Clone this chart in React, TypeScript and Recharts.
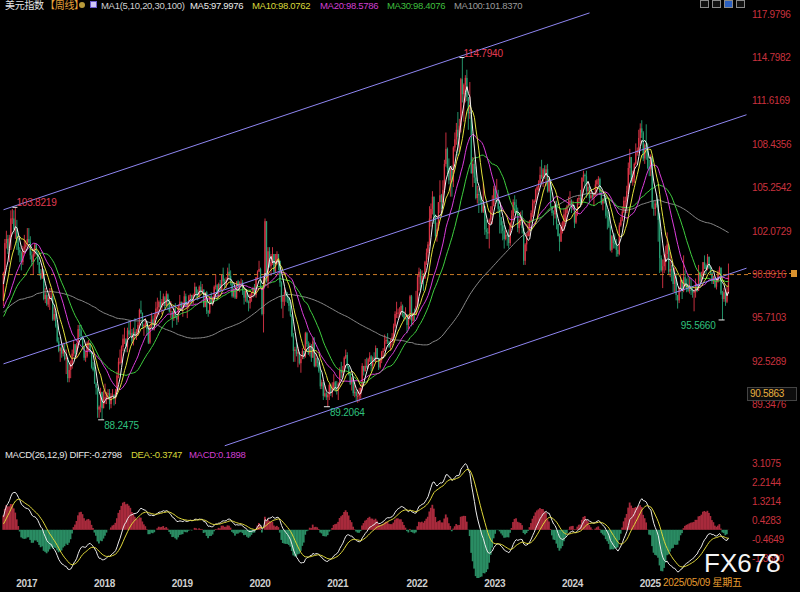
import React from "react";
import { ComposedChart, Bar, Line, XAxis, YAxis, ReferenceLine, ReferenceDot } from "recharts";

type HLC = [number, number, number]; // high, low, close (open = previous close)

// weekly closes before the first drawn bar, only used to feed MA / MACD
const WARMUP_CLOSE = [
  88.4, 89.6, 90.3,
  91.2, 91.9, 92.5, 95.0, 94.8, 94.6, 94.2, 94.4, 95.3, 97.7, 100.0, 97.9, 97.3, 97.3, 99.3, 97.5, 96.9,
  95.3, 94.8, 93.1, 96.0, 97.0, 96.3, 95.2, 94.1, 95.5, 96.1, 96.1, 97.9, 97.2, 97.3, 98.0, 96.6, 94.9,
  95.8, 96.2, 95.3, 95.1, 96.1, 96.1, 94.9, 94.5, 96.9, 96.9, 99.3, 98.9, 99.6, 100.0, 98.4, 97.6, 98.7, 97.9,
  98.6, 98.5, 99.0, 99.6, 99.6, 97.0, 96.0, 96.6, 98.1, 97.3, 96.2, 95.1, 95.9, 94.6, 94.2, 94.7, 95.1, 93.1,
  93.9, 94.6, 95.3, 95.5, 94.0, 94.6, 94.2, 95.5, 95.6, 96.3, 96.6, 97.5, 95.5, 96.2, 95.7, 94.5, 95.5,
  95.8, 95.1, 96.1, 95.4, 95.4, 96.6, 98.0, 98.7, 98.3, 97.0,
];

const W2016: HLC[] = [
  [99.1, 96.6, 99.0], [101.5, 98.8, 101.2], [102.1, 100.8, 101.5], [101.8, 100.4, 100.7],
  [101.8, 99.8, 101.6], [103.6, 100.7, 103.0], [103.7, 102.6, 103.0], [103.6, 101.9, 102.2],
];
const W2017: HLC[] = [
  [103.82, 101.5, 102.2], [102.9, 100.7, 101.2], [101.6, 100.3, 100.7], [100.9, 99.8, 100.5],
  [100.6, 99.2, 99.8], [101.0, 99.6, 100.8], [101.8, 100.4, 100.9], [101.4, 100.7, 101.1],
  [102.3, 101.0, 101.5], [102.3, 101.2, 101.3], [101.7, 100.0, 100.3], [100.6, 99.5, 99.8], [100.8, 98.9, 100.4],
  [101.2, 100.2, 101.1], [101.2, 100.3, 100.5], [100.6, 99.6, 99.8], [99.8, 98.8, 99.0],
  [99.3, 98.5, 98.6], [99.5, 98.6, 99.2], [99.3, 97.0, 97.1], [97.9, 96.8, 97.4],
  [97.6, 96.6, 96.7], [97.4, 96.5, 97.2], [97.9, 96.3, 97.2], [97.9, 97.0, 97.3], [97.5, 95.5, 95.6],
  [96.5, 95.5, 96.0], [96.3, 95.0, 95.1], [95.3, 93.9, 94.0], [94.3, 93.2, 93.3],
  [93.6, 92.5, 93.5], [93.8, 92.8, 93.1], [93.9, 92.9, 93.4], [93.8, 92.6, 92.7],
  [93.4, 91.6, 92.8], [92.8, 91.0, 91.3], [92.3, 91.0, 91.9], [92.6, 91.3, 92.2], [93.4, 92.0, 93.1],
  [94.1, 92.9, 93.8], [93.7, 92.8, 93.1], [93.9, 92.8, 93.7], [95.2, 93.5, 94.9],
  [95.2, 94.3, 94.8], [95.2, 94.1, 94.4], [94.4, 93.4, 93.6], [93.6, 92.6, 92.8],
  [93.3, 92.5, 92.9], [94.0, 92.8, 93.9], [94.1, 93.3, 93.9], [93.9, 93.1, 93.3], [93.3, 92.0, 92.1],
];
const W2018: HLC[] = [
  [92.5, 91.8, 91.9], [92.4, 90.9, 90.9], [91.0, 90.1, 90.6], [90.6, 88.4, 89.0],
  [89.3, 88.4, 89.2], [90.6, 88.8, 90.3], [90.3, 88.25, 89.1], [90.4, 89.1, 89.8],
  [90.9, 89.4, 89.9], [90.3, 89.4, 90.1], [90.5, 89.7, 90.2], [90.5, 89.0, 89.4], [90.2, 89.1, 90.0],
  [90.5, 89.9, 90.1], [90.1, 89.3, 89.8], [90.5, 89.4, 90.3], [91.8, 90.3, 91.5],
  [92.8, 91.3, 92.5], [93.4, 92.3, 92.5], [93.7, 92.4, 93.6], [94.5, 93.3, 94.2],
  [95.0, 93.8, 94.2], [94.2, 93.2, 93.6], [95.0, 93.2, 94.8], [95.5, 94.3, 94.5], [95.5, 94.4, 94.6],
  [94.9, 93.8, 94.0], [95.0, 93.7, 94.7], [95.7, 94.2, 94.4], [94.9, 94.1, 94.7],
  [95.4, 94.4, 95.2], [96.4, 95.0, 96.3], [96.98, 96.0, 96.1], [96.1, 94.9, 95.1], [95.3, 94.4, 95.2],
  [95.7, 95.0, 95.4], [95.4, 94.4, 94.9], [94.9, 93.8, 93.9], [95.2, 93.8, 95.1],
  [96.1, 95.0, 95.6], [95.9, 94.8, 95.2], [96.0, 94.8, 95.7], [96.9, 95.6, 96.4],
  [97.2, 96.0, 96.5], [97.0, 95.9, 96.9], [97.7, 96.3, 96.5], [97.1, 96.0, 96.9], [97.5, 96.6, 97.3],
  [97.2, 96.4, 96.6], [97.7, 96.6, 97.5], [97.4, 96.3, 96.9], [97.1, 96.1, 96.2],
];
const W2019: HLC[] = [
  [96.95, 95.7, 96.2], [96.2, 95.0, 95.7], [96.5, 95.5, 96.4], [96.8, 95.7, 95.8],
  [95.9, 95.2, 95.6], [96.7, 95.4, 96.6], [97.4, 96.4, 96.9], [96.9, 96.3, 96.5],
  [96.9, 95.8, 96.5], [97.7, 96.5, 97.3], [97.5, 96.5, 96.6], [96.8, 95.7, 96.7], [97.4, 96.4, 97.3],
  [97.5, 96.8, 97.4], [97.4, 96.7, 96.9], [97.5, 96.7, 97.4], [98.3, 97.3, 98.0],
  [98.0, 97.2, 97.5], [97.8, 97.0, 97.3], [98.1, 97.2, 98.0], [98.4, 97.5, 97.6], [98.2, 97.5, 97.8],
  [97.8, 96.5, 96.5], [97.6, 96.6, 97.6], [97.7, 96.0, 96.2], [96.3, 95.8, 96.1],
  [97.3, 96.0, 97.3], [97.6, 96.7, 96.8], [97.3, 96.6, 97.2], [98.1, 97.1, 98.0],
  [98.9, 97.8, 98.1], [98.2, 97.0, 97.5], [98.3, 97.1, 98.2], [98.5, 97.6, 97.7], [98.9, 97.7, 98.9],
  [99.4, 98.2, 98.4], [98.6, 97.9, 98.1], [98.7, 97.9, 98.5], [99.4, 98.4, 99.1],
  [99.7, 98.5, 98.8], [99.2, 98.1, 98.3], [98.3, 97.2, 97.3], [97.9, 97.2, 97.8],
  [97.9, 97.1, 97.2], [98.4, 97.1, 98.4], [98.5, 97.8, 98.0], [98.4, 97.6, 98.3], [98.6, 98.1, 98.3],
  [98.5, 97.4, 97.7], [97.7, 96.7, 97.2], [97.7, 96.9, 97.7], [97.7, 96.8, 96.9],
];
const W2020: HLC[] = [
  [97.0, 96.2, 96.8], [97.5, 96.4, 97.4], [97.6, 96.9, 97.6], [98.0, 97.2, 97.9], [98.2, 97.3, 97.4],
  [98.7, 97.2, 98.7], [99.2, 98.5, 99.1], [99.9, 99.1, 99.3], [99.4, 97.9, 98.1],
  [98.0, 95.9, 96.0], [98.8, 94.65, 98.7], [103.0, 98.0, 102.8], [102.8, 98.3, 98.4],
  [100.9, 97.9, 100.6], [100.9, 99.4, 99.5], [100.4, 98.8, 99.8], [100.9, 99.6, 100.4],
  [100.4, 98.9, 99.1], [100.4, 99.1, 99.7], [100.6, 99.6, 100.4], [100.4, 99.2, 99.9], [99.9, 98.0, 98.3],
  [98.4, 96.4, 96.9], [97.4, 95.7, 97.3], [97.9, 96.6, 97.6], [97.7, 96.9, 97.4],
  [97.6, 96.8, 97.2], [97.2, 96.2, 96.6], [96.9, 95.8, 95.9], [96.0, 94.3, 94.4], [94.6, 92.5, 93.3],
  [93.6, 92.5, 93.4], [93.9, 92.9, 93.1], [93.6, 92.1, 93.2], [93.2, 92.3, 92.4],
  [93.0, 91.7, 92.7], [93.5, 92.7, 93.3], [93.3, 92.7, 92.9], [94.7, 92.8, 94.6],
  [94.7, 93.6, 93.8], [94.0, 93.0, 93.1], [93.9, 92.9, 93.7], [93.8, 92.5, 92.8], [94.3, 92.8, 94.0],
  [94.3, 92.1, 92.2], [93.2, 92.1, 92.8], [92.8, 92.1, 92.4], [92.5, 91.7, 91.8],
  [91.9, 90.5, 90.7], [91.2, 90.5, 91.0], [91.0, 89.7, 90.0], [90.8, 89.9, 90.2],
];
const W2021: HLC[] = [
  [90.3, 89.7, 89.9], [90.2, 89.21, 90.1], [90.9, 89.7, 90.8], [90.9, 90.0, 90.2], [91.0, 89.9, 90.6],
  [91.6, 90.5, 91.0], [91.1, 90.3, 90.5], [91.1, 90.1, 90.4], [91.0, 89.7, 90.9],
  [92.1, 90.7, 91.9], [92.5, 91.3, 91.7], [92.2, 91.3, 91.9], [92.9, 91.8, 92.8],
  [93.4, 92.7, 93.0], [93.2, 92.0, 92.2], [92.2, 91.5, 91.6], [91.7, 90.8, 90.9], [91.4, 90.4, 91.3],
  [91.4, 90.0, 90.2], [91.0, 89.9, 90.3], [90.5, 89.6, 90.0], [90.4, 89.5, 90.0],
  [90.6, 89.6, 90.1], [90.6, 89.8, 90.6], [92.4, 90.4, 92.2], [92.2, 91.5, 91.8],
  [92.7, 91.8, 92.2], [92.8, 92.0, 92.1], [92.8, 92.0, 92.7], [93.2, 92.5, 92.9], [93.0, 91.8, 92.2],
  [92.9, 91.9, 92.8], [93.2, 92.5, 92.5], [93.7, 92.5, 93.5], [93.5, 92.7, 92.7],
  [92.8, 91.9, 92.1], [92.7, 92.0, 92.6], [93.3, 92.4, 93.2], [93.5, 92.8, 93.3],
  [94.5, 93.3, 94.0], [94.3, 93.8, 94.1], [94.6, 93.8, 94.0], [94.0, 93.5, 93.6], [94.2, 93.3, 94.1],
  [94.6, 93.7, 94.3], [95.3, 93.9, 95.1], [96.2, 95.0, 96.0], [96.9, 95.7, 96.1],
  [96.4, 95.7, 96.1], [96.5, 95.8, 96.1], [96.9, 95.9, 96.6], [96.7, 95.8, 96.0], [96.2, 95.5, 95.7],
];
const W2022: HLC[] = [
  [96.5, 95.6, 95.7], [96.0, 94.6, 95.2], [95.9, 94.9, 95.6], [97.4, 95.6, 97.3],
  [97.4, 95.1, 95.5], [96.1, 95.2, 96.1], [96.4, 95.5, 96.0], [97.7, 95.9, 96.6],
  [98.9, 96.6, 98.7], [99.4, 97.7, 99.1], [99.3, 97.7, 98.2], [99.2, 98.2, 98.8],
  [99.0, 97.7, 98.6], [99.9, 98.6, 99.8], [100.8, 99.6, 100.5], [101.3, 100.0, 101.1], [103.9, 101.0, 103.0],
  [104.1, 102.4, 103.7], [105.0, 103.3, 104.6], [104.6, 102.6, 103.2], [103.3, 101.4, 101.7],
  [102.7, 101.3, 102.2], [104.2, 102.1, 104.2], [105.8, 103.4, 104.7], [104.8, 103.7, 104.2],
  [105.8, 103.9, 105.1], [107.3, 104.9, 107.0], [109.3, 106.8, 108.1], [108.2, 106.2, 106.7], [107.4, 105.5, 105.8],
  [106.8, 104.6, 106.6], [106.9, 104.6, 105.7], [108.3, 105.3, 108.2], [109.3, 107.9, 108.8],
  [110.0, 108.4, 109.5], [110.8, 107.6, 109.0], [110.3, 107.9, 109.8], [113.3, 109.3, 113.2], [114.79, 111.5, 112.1],
  [112.9, 110.1, 112.8], [113.5, 111.5, 113.3], [113.9, 111.6, 111.9], [111.8, 109.5, 110.7],
  [113.0, 110.3, 110.8], [111.0, 106.3, 106.3], [107.5, 105.3, 107.0], [107.3, 105.6, 106.0],
  [106.8, 104.4, 104.5], [105.4, 104.1, 104.8], [105.2, 103.4, 104.7], [104.9, 104.0, 104.3], [104.6, 103.4, 103.5],
];
const W2023: HLC[] = [
  [105.6, 103.4, 103.9], [103.9, 101.8, 102.2], [102.9, 101.5, 102.0], [102.3, 101.5, 101.9],
  [103.0, 100.8, 102.9], [103.9, 102.6, 103.6], [104.7, 102.6, 103.9], [105.4, 103.9, 105.2],
  [105.4, 104.2, 104.5], [105.9, 104.3, 104.6], [105.1, 103.4, 103.7], [103.9, 101.9, 103.1], [103.1, 101.9, 102.5],
  [102.8, 101.4, 102.1], [102.5, 100.8, 101.5], [102.2, 101.4, 101.8], [101.9, 101.0, 101.7],
  [102.2, 100.8, 101.2], [102.7, 101.0, 102.7], [103.6, 102.3, 103.2], [104.4, 102.9, 104.2],
  [104.7, 103.4, 104.0], [104.4, 103.3, 103.6], [103.8, 102.0, 102.3], [103.0, 101.9, 102.9], [103.5, 102.5, 102.9],
  [103.6, 101.9, 102.3], [102.1, 99.6, 99.9], [101.2, 99.6, 101.1], [101.9, 100.6, 101.7],
  [102.8, 101.7, 102.0], [102.9, 101.7, 102.8], [103.6, 102.7, 103.4], [104.4, 103.1, 104.1],
  [104.4, 103.2, 104.3], [105.2, 104.2, 105.1], [105.4, 104.4, 105.3], [105.8, 105.0, 105.6], [106.8, 105.6, 106.2],
  [107.3, 105.9, 106.0], [106.7, 105.3, 106.6], [106.9, 105.9, 106.2], [106.9, 105.4, 106.6],
  [107.0, 104.9, 105.0], [106.0, 104.9, 105.9], [105.8, 103.8, 103.9], [103.9, 103.2, 103.4],
  [103.6, 102.5, 103.3], [104.3, 103.0, 104.0], [104.3, 102.2, 102.6], [102.6, 101.7, 101.7], [101.9, 100.6, 101.3],
];
const W2024: HLC[] = [
  [102.7, 101.3, 102.4], [102.8, 101.9, 102.4], [103.7, 102.1, 103.3], [103.8, 102.8, 103.4],
  [104.0, 102.8, 103.9], [104.6, 103.8, 104.1], [105.0, 103.9, 104.3], [104.4, 103.4, 103.9],
  [104.3, 103.6, 103.9], [104.0, 102.3, 102.7], [103.5, 102.6, 103.4], [104.5, 103.2, 104.4], [104.7, 104.0, 104.5],
  [105.1, 104.0, 104.3], [106.0, 104.0, 106.0], [106.5, 105.7, 106.2], [106.3, 105.4, 106.1],
  [106.5, 104.5, 105.0], [105.7, 104.8, 105.3], [105.4, 104.1, 104.5], [105.1, 104.4, 104.7], [105.0, 104.4, 104.6],
  [104.9, 103.9, 104.9], [105.8, 104.6, 105.5], [105.9, 104.8, 105.8], [106.1, 105.4, 105.9],
  [106.0, 104.8, 104.9], [105.1, 104.0, 104.1], [104.5, 103.6, 104.4], [104.6, 104.1, 104.3],
  [104.8, 103.0, 103.2], [103.6, 102.2, 103.1], [103.5, 102.3, 102.4], [102.5, 100.6, 100.7], [101.8, 100.5, 101.7],
  [101.9, 100.8, 101.2], [101.9, 100.8, 101.1], [101.5, 100.2, 100.7], [101.0, 100.2, 100.4],
  [102.7, 100.3, 102.5], [103.1, 102.4, 102.9], [103.9, 102.8, 103.5], [104.6, 103.4, 104.3],
  [104.6, 103.8, 104.3], [105.4, 103.4, 105.0], [107.1, 104.9, 106.7], [108.1, 106.2, 107.5], [107.5, 105.6, 105.7],
  [106.5, 105.4, 106.0], [107.1, 105.6, 107.0], [108.5, 106.9, 107.8], [108.2, 107.6, 108.0],
];
const W2025: HLC[] = [
  [109.5, 107.8, 108.9], [109.97, 108.4, 109.6], [110.2, 108.9, 109.3], [109.4, 107.2, 107.4], [108.5, 107.0, 108.4],
  [109.9, 107.3, 108.0], [108.5, 106.6, 106.7], [107.3, 106.1, 106.6], [107.7, 106.1, 107.6],
  [107.6, 103.7, 103.8], [104.3, 103.2, 103.7], [104.3, 103.2, 104.1], [104.7, 103.8, 104.0],
  [104.4, 101.3, 102.9], [103.4, 99.0, 100.1], [100.3, 99.1, 99.2], [100.0, 97.9, 99.5],
  [100.4, 99.0, 100.0], [101.0, 99.2, 100.4], [101.98, 100.1, 101.1], [101.1, 98.9, 99.1], [100.5, 98.7, 99.3],
  [99.6, 98.4, 99.2], [99.4, 97.6, 98.2], [99.4, 97.6, 98.7], [99.0, 97.0, 97.4],
  [97.4, 96.4, 97.0], [98.0, 96.8, 97.9], [98.95, 97.6, 98.5], [98.5, 97.1, 97.7],
  [100.3, 97.6, 98.7], [99.2, 97.9, 98.2], [98.6, 97.6, 97.9], [98.8, 97.6, 97.7], [98.7, 97.5, 97.8],
  [98.6, 97.4, 97.7], [98.0, 97.2, 97.6], [97.8, 96.2, 97.6], [98.6, 97.2, 98.2],
  [98.2, 97.6, 97.7], [99.6, 97.7, 99.0], [99.1, 97.9, 98.4], [99.1, 98.3, 98.9], [99.8, 98.6, 99.8],
  [100.3, 99.3, 99.6], [99.7, 98.9, 99.3], [100.4, 99.2, 100.2], [100.2, 99.3, 99.4],
  [99.5, 98.9, 99.0], [99.1, 98.2, 98.4], [98.8, 98.2, 98.7], [98.5, 97.9, 98.0],
];
const W2026: HLC[] = [
  [98.6, 97.8, 98.4], [99.2, 98.3, 99.1], [99.5, 98.9, 99.4], [99.4, 97.4, 97.5], [97.7, 95.566, 97.1],
  [97.9, 96.9, 97.6], [97.8, 96.6, 96.9], [98.0, 96.8, 97.6], [99.7, 97.5, 98.9],
];

const YEAR_BLOCKS = [W2016, W2017, W2018, W2019, W2020, W2021, W2022, W2023, W2024, W2025, W2026];
const YEAR_LABELS = ["2017", "2018", "2019", "2020", "2021", "2022", "2023", "2024", "2025"];
const PRICE_TICKS = [117.9796, 114.7982, 111.6169, 108.4356, 105.2542, 102.0729, 98.8916, 95.7103, 92.5289, 89.3476];
const MACD_TICKS = [3.1075, 2.2144, 1.3214, 0.4283, -0.4649, -1.358];
const LAST_PRICE = 98.8916;
// trend channel drawn on the chart: [week, price] end points
const CHANNELS: [number, number][][] = [
  [[0, 103.64], [392, 118.06]],
  [[0, 92.35], [497, 110.6]],
  [[148, 86.35], [497, 99.36]],
];
// extreme value marks: week, price, text
const MARKS_HIGH: [number, number, string][] = [[8, 103.82, "103.8219"], [307, 114.79, "114.7940"]];
const MARKS_LOW: [number, number, string][] = [[66, 88.25, "88.2475"], [217, 89.21, "89.2064"], [481, 95.566, "95.5660"]];
const BLANK_WEEKS = 12;

const FONT = '"Liberation Sans", Arial, "Noto Sans CJK SC", sans-serif';
const UP = "#dc3446";
const DOWN = "#27a074";
const AXIS_RED = "#c9323e";

const WEEKS: HLC[] = YEAR_BLOCKS.flat();
const YEAR_IDX: number[] = [];
{
  let n = 0;
  YEAR_BLOCKS.forEach((b, k) => {
    if (k > 0 && k <= YEAR_LABELS.length) YEAR_IDX.push(n);
    n += b.length;
  });
}

const closes = [...WARMUP_CLOSE, ...WEEKS.map((w) => w[2])];
const OFF = WARMUP_CLOSE.length;
const sma = (n: number, j: number) => {
  if (j + 1 < n) return null;
  let s = 0;
  for (let k = j - n + 1; k <= j; k++) s += closes[k];
  return s / n;
};
const ema = (src: number[], n: number) => {
  let e = src[0];
  return src.map((v, k) => (e = k === 0 ? v : (2 * v + (n - 1) * e) / (n + 1)));
};
const e12 = ema(closes, 12);
const e26 = ema(closes, 26);
const dif = closes.map((_, k) => e12[k] - e26[k]);
const dea = ema(dif, 9);

const rows = Array.from({ length: WEEKS.length + BLANK_WEEKS }, (_, i) => {
  if (i >= WEEKS.length) return { i } as any;
  const [high, low, close] = WEEKS[i];
  const j = OFF + i;
  return {
    i, open: closes[j - 1], high, low, close, range: [low, high],
    ma5: sma(5, j), ma10: sma(10, j), ma20: sma(20, j), ma30: sma(30, j), ma100: sma(100, j),
    diff: dif[j], dea: dea[j], macd: 2 * (dif[j] - dea[j]),
  };
});

const Candle = (p: any) => {
  const d = p.payload;
  if (!d || d.high == null) return null;
  const top = Math.min(p.y, p.y + p.height);
  const h = Math.abs(p.height);
  const k = d.high > d.low ? h / (d.high - d.low) : 0;
  const col = d.close >= d.open ? UP : DOWN;
  const cx = p.x + p.width / 2;
  const b1 = top + (d.high - Math.max(d.open, d.close)) * k;
  const b2 = top + (d.high - Math.min(d.open, d.close)) * k;
  return (
    <g>
      <line x1={cx} x2={cx} y1={top} y2={top + h} stroke={col} strokeWidth={0.9} />
      <rect x={cx - 0.65} y={b1} width={1.3} height={Math.max(0.8, b2 - b1)} fill={col} />
    </g>
  );
};

// histogram columns drawn edge to edge so the area reads as solid
const HistBar = (p: any) => {
  const v = p.payload?.macd;
  if (v == null) return null;
  const cx = p.x + p.width / 2;
  return <rect x={cx - 0.9} y={Math.min(p.y, p.y + p.height)} width={1.8} height={Math.abs(p.height)} fill={v >= 0 ? "#a82a3c" : "#2a8c63"} />;
};

const PriceTick = (p: any) => (
  <text x={p.x} y={p.y} dy={3.5} fill={AXIS_RED} fontSize={10} fontFamily={FONT} letterSpacing={-0.3}>
    {Number(p.payload.value).toFixed(4)}
  </text>
);

const YearTick = (p: any) => {
  const k = YEAR_IDX.indexOf(p.payload.value);
  if (k < 0) return null;
  return (
    <text x={p.x + 0.8} y={p.y + 9} fill="#cfcfcf" fontSize={10} fontWeight="bold" fontFamily={FONT} letterSpacing={-0.3}>
      {YEAR_LABELS[k]}
    </text>
  );
};

const markShape = (text: string, low: boolean, dx: number, dy: number, anchor: "start" | "end") => (p: any) => (
  <g>
    <line x1={p.cx - (low ? 4 : 3)} x2={p.cx + 2} y1={p.cy} y2={p.cy} stroke="#f0f0f0" strokeWidth={1} />
    <text x={p.cx + dx} y={p.cy + dy} fill={low ? "#2fc07e" : "#e23c52"} fontSize={10} fontFamily={FONT} textAnchor={anchor} letterSpacing={-0.2}>
      {text}
    </text>
  </g>
);

const T = ({ x, y, c, s = 9.5, w, children }: any) => (
  <div style={{ position: "absolute", left: x, top: y, color: c, fontSize: s, fontWeight: w, lineHeight: "12px", letterSpacing: -0.3, whiteSpace: "nowrap" }}>
    {children}
  </div>
);

const MA_LINES: [string, string][] = [["ma100", "#8a8a8a"], ["ma30", "#3fcf3f"], ["ma20", "#dc3ddc"], ["ma10", "#e2e23c"], ["ma5", "#f2f2f2"]];
const XPAD = { left: 2.75, right: 0.75 };

export default function App() {
  return (
    <div style={{ position: "absolute", left: 0, top: 0, width: 800, height: 592, background: "#000", overflow: "hidden", fontFamily: FONT }}>
      <div style={{ position: "absolute", left: 0, top: 0 }}>
        <ComposedChart width={800} height={447} data={rows} margin={{ top: 8, right: 0, bottom: 0, left: 0 }}>
          <XAxis dataKey="i" type="category" hide height={0} padding={XPAD} />
          <YAxis orientation="right" width={52} domain={[86.26, 118.42]} allowDataOverflow ticks={PRICE_TICKS} interval={0}
            tick={PriceTick} axisLine={false} tickLine={false} tickSize={0} tickMargin={4} />
          <ReferenceLine y={LAST_PRICE} stroke="#c97a26" strokeDasharray="4 3" />
          <Bar dataKey="range" shape={Candle} isAnimationActive={false} />
          {MA_LINES.map(([k, c]) => (
            <Line key={k} dataKey={k} stroke={c} strokeWidth={1} dot={false} activeDot={false} isAnimationActive={false} type="linear" />
          ))}
          {CHANNELS.map((seg, n) => (
            <ReferenceLine key={n} segment={seg.map(([x, y]) => ({ x, y }))} stroke="#8f86f2" strokeWidth={1} ifOverflow="visible" />
          ))}
          {MARKS_HIGH.map(([i, v, t]) => (
            <ReferenceDot key={t} x={i} y={v} r={0} ifOverflow="visible" shape={markShape(t, false, 1, -1, "start")} />
          ))}
          {MARKS_LOW.map(([i, v, t], n) => (
            <ReferenceDot key={t} x={i} y={v} r={0} ifOverflow="visible"
              shape={n === 2 ? markShape(t, true, -7, 9, "end") : markShape(t, true, 2, 9, "start")} />
          ))}
        </ComposedChart>
      </div>
      <div style={{ position: "absolute", left: 0, top: 447 }}>
        <ComposedChart width={800} height={145} data={rows} margin={{ top: 0, right: 0, bottom: 0, left: 0 }} barCategoryGap={0} barGap={0}>
          <XAxis dataKey="i" type="category" height={14} padding={XPAD} ticks={YEAR_IDX} interval={0} tick={YearTick}
            axisLine={false} tickLine={false} tickSize={0} tickMargin={0} />
          <YAxis orientation="right" width={52} domain={[-2.263, 3.887]} allowDataOverflow ticks={MACD_TICKS} interval={0}
            tick={PriceTick} axisLine={false} tickLine={false} tickSize={0} tickMargin={4} />
          <Bar dataKey="macd" shape={HistBar} isAnimationActive={false} />
          <Line dataKey="diff" stroke="#ececec" strokeWidth={1} dot={false} activeDot={false} isAnimationActive={false} />
          <Line dataKey="dea" stroke="#e0d83a" strokeWidth={1} dot={false} activeDot={false} isAnimationActive={false} />
        </ComposedChart>
      </div>

      {/* top legend */}
      <T x={5} y={0} c="#e6e6e6" s={10}>美元指数</T>
      <T x={45} y={0} c="#e8a33a" s={10}>【周线】</T>
      <div style={{ position: "absolute", left: 79, top: 2, width: 6, height: 6, borderRadius: 3, background: "#b89a3a" }} />
      <div style={{ position: "absolute", left: 90, top: 1, width: 7, height: 7, background: "#cfc6f5", border: "1px solid #6a5acd", boxSizing: "border-box" }} />
      <T x={101} y={0} c="#d0d0d0">MA1(5,10,20,30,100)</T>
      <T x={190} y={0} c="#ececec">MA5:97.9976</T>
      <T x={252} y={0} c="#d8d83a">MA10:98.0762</T>
      <T x={320} y={0} c="#d23fd2">MA20:98.5786</T>
      <T x={387} y={0} c="#3fbf3f">MA30:98.4076</T>
      <T x={454} y={0} c="#9a9a9a">MA100:101.8370</T>
      {[700, 712, 724, 736].map((x, n) => (
        <div key={x} style={{ position: "absolute", left: x, top: 0, width: 9, height: 8, border: "1px solid #8a8a8a", boxSizing: "border-box", background: n === 2 ? "#2a5fc0" : "#111" }} />
      ))}

      {/* right axis extras */}
      <div style={{ position: "absolute", left: 748, top: 273, width: 44, borderTop: "1px dashed #c97a26" }} />
      <div style={{ position: "absolute", left: 791, top: 270, width: 6, height: 7, background: "#d9922e" }} />
      <div style={{ position: "absolute", left: 747, top: 387, width: 50, height: 14, background: "#0d0d0d", border: "1px solid #444", boxSizing: "border-box" }} />
      <T x={750} y={388} c="#e8b040" s={10}>90.5863</T>

      {/* MACD legend */}
      <T x={5} y={449} c="#e6e6e6">MACD(26,12,9) DIFF:-0.2798</T>
      <T x={131} y={449} c="#d8d83a">DEA:-0.3747</T>
      <T x={189} y={449} c="#d23fd2">MACD:0.1898</T>

      <T x={663} y={577} c="#e59a2e" s={10}>2025/05/09 星期五</T>
      <div style={{ position: "absolute", left: 704, top: 548, color: "#f4f4f4", fontSize: 26, lineHeight: "30px", letterSpacing: 0, fontFamily: FONT }}>FX678</div>
    </div>
  );
}
